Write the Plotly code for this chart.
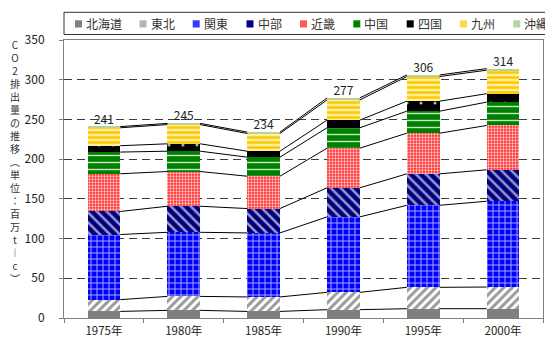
import numpy as np
import plotly.graph_objects as go

# CO2 emissions by region (million t-C), stacked bottom to top
years = ["1975年", "1980年", "1985年", "1990年", "1995年", "2000年"]
regions = ["北海道", "東北", "関東", "中部", "近畿", "中国", "四国", "九州", "沖縄"]

hokkaido = [8.3, 9.6, 8.3, 10.5, 11.7, 11.7]
tohoku = [14.8, 17.6, 18.2, 21.8, 26.9, 27.3]
kanto = [82.0, 80.7, 80.6, 95.0, 103.3, 108.0]
chubu = [29.0, 32.8, 30.7, 36.6, 39.6, 39.6]
kinki = [47.5, 43.7, 40.7, 49.9, 51.2, 55.8]
chugoku = [27.3, 25.6, 24.0, 25.7, 27.7, 29.4]
shikoku = [8.0, 9.3, 7.5, 9.6, 12.6, 10.6]
kyushu = [22.6, 24.2, 22.3, 25.4, 31.0, 29.6]
okinawa = [1.5, 1.5, 1.7, 2.5, 2.0, 2.0]

y_ticks = [0, 50, 100, 150, 200, 250, 300, 350]

series = [hokkaido, tohoku, kanto, chubu, kinki, chugoku, shikoku, kyushu, okinawa]

# fill styles per region: (legend colour, pattern)
styles = [
    ("#808080", None),
    ("#b4b4b4", dict(shape="/", bgcolor="#ffffff", fgcolor="#9a9a9a", size=6, solidity=0.5)),
    ("#3a3aff", dict(shape="+", bgcolor="#0000ff", fgcolor="#a8a8ff", size=6, solidity=0.3)),
    ("#000080", dict(shape="\\", bgcolor="#000080", fgcolor="#9c9cc8", size=7, solidity=0.35)),
    ("#ff5a5a", dict(shape=".", bgcolor="#ff2a2a", fgcolor="#ffd0d0", size=3, solidity=0.45)),
    ("#008000", dict(shape="-", bgcolor="#008000", fgcolor="#c8e6c8", size=7, solidity=0.2)),
    ("#000000", dict(shape=".", bgcolor="#000000", fgcolor="#b0b0b0", size=14, solidity=0.04)),
    ("#ffd84a", dict(shape="-", bgcolor="#fff0a0", fgcolor="#ffc800", size=5, solidity=0.5)),
    ("#b8d49c", None),
]

x = np.arange(len(years))
bar_w = 0.41

fig = go.Figure()
for name, vals, (col, pat) in zip(regions, series, styles):
    marker = dict(color=col, line=dict(width=0))
    if pat is not None:
        marker["pattern"] = dict(fillmode="replace", **pat)
    fig.add_trace(go.Bar(x=x, y=vals, name=name, width=bar_w, marker=marker,
                         showlegend=False, hoverinfo="skip"))

# series lines joining each stack boundary between neighbouring bars
cum = np.cumsum(np.array(series), axis=0)
for level in cum:
    lx, ly = [], []
    for i in range(len(years) - 1):
        lx += [x[i] + bar_w / 2, x[i + 1] - bar_w / 2, None]
        ly += [level[i], level[i + 1], None]
    fig.add_trace(go.Scatter(x=lx, y=ly, mode="lines", line=dict(color="#000000", width=1),
                             showlegend=False, hoverinfo="skip"))

totals = cum[-1]
fig.add_trace(go.Scatter(x=x, y=totals, mode="text", text=[f"{t:.0f}" for t in totals],
                         textposition="top center",
                         textfont=dict(size=12, color="#222222",
                                       family="Liberation Sans Narrow, Noto Sans CJK JP, sans-serif"),
                         showlegend=False, hoverinfo="skip"))

# plot-area geometry in pixels
W_FIG, H_FIG = 545, 340
L, R, T, B = 64, 543, 40, 318
def px(v):
    return (v - L) / (R - L)
def py(v):
    return (B - v) / (B - T)

tick_font = dict(size=12, color="#222222", family="Liberation Sans Narrow, Noto Sans CJK JP, sans-serif")

fig.update_layout(
    width=W_FIG, height=H_FIG,
    margin=dict(l=L, r=W_FIG - R, t=T, b=H_FIG - B, autoexpand=False),
    paper_bgcolor="white", plot_bgcolor="white",
    barmode="stack",
    xaxis=dict(range=[-0.5, len(years) - 0.5], tickvals=list(x), ticktext=years,
               ticks="", showgrid=False, zeroline=False, automargin=False,
               showline=True, linecolor="#808080", linewidth=1, mirror=True,
               tickfont=dict(size=11.5, color="#222222",
                             family="Liberation Sans Narrow, Noto Sans CJK JP, sans-serif"),
               ticklabelstandoff=2,
               minor=dict(tickmode="linear", tick0=-0.5, dtick=1, ticks="outside",
                          ticklen=4, tickcolor="#808080", showgrid=False)),
    yaxis=dict(range=[0, 350], tickvals=y_ticks, ticks="outside", ticklen=4,
               tickcolor="#808080", showline=True, linecolor="#808080", linewidth=1,
               mirror=True, zeroline=False, automargin=False,
               showgrid=True, gridcolor="#3c3c3c", gridwidth=1, griddash="8px,5px",
               tickfont=tick_font, ticklabelstandoff=12),
    font=dict(family="Noto Sans CJK JP"),
)

shapes = []
annotations = []

# legend box (runs past the right edge)
shapes.append(dict(type="rect", xref="paper", yref="paper",
                   x0=px(64), x1=px(580), y0=py(34.5), y1=py(12.3),
                   line=dict(color="#333333", width=1), fillcolor="white"))
legend_x = [75, 139.5, 192.7, 246.5, 300, 353.3, 406.7, 460, 513.3]
for name, (col, pat), mx in zip(regions, styles, legend_x):
    shapes.append(dict(type="rect", xref="paper", yref="paper",
                       x0=px(mx), x1=px(mx + 7), y0=py(27.5), y1=py(20.3),
                       line=dict(width=0), fillcolor=col))
    annotations.append(dict(text=name, xref="paper", yref="paper", x=px(mx + 9), y=py(23.8),
                            xanchor="left", yanchor="middle", showarrow=False,
                            font=dict(size=12, color="#333333", family="Noto Sans CJK JP")))

# stacked vertical axis title, one character per line
title_chars = ["C", "O", "2", "排", "出", "量", "の", "推", "移", "︵", "単", "位", "：",
               "百", "万", "t", "︱", "c", "︶"]
annotations.append(dict(text="<br>".join(title_chars), xref="paper", yref="paper",
                        x=px(15), y=py(161.5), xanchor="center", yanchor="middle",
                        showarrow=False, align="center",
                        font=dict(size=10, color="#333333", family="Noto Sans CJK JP")))

fig.update_layout(shapes=shapes, annotations=annotations)
fig.write_html("out.html")
